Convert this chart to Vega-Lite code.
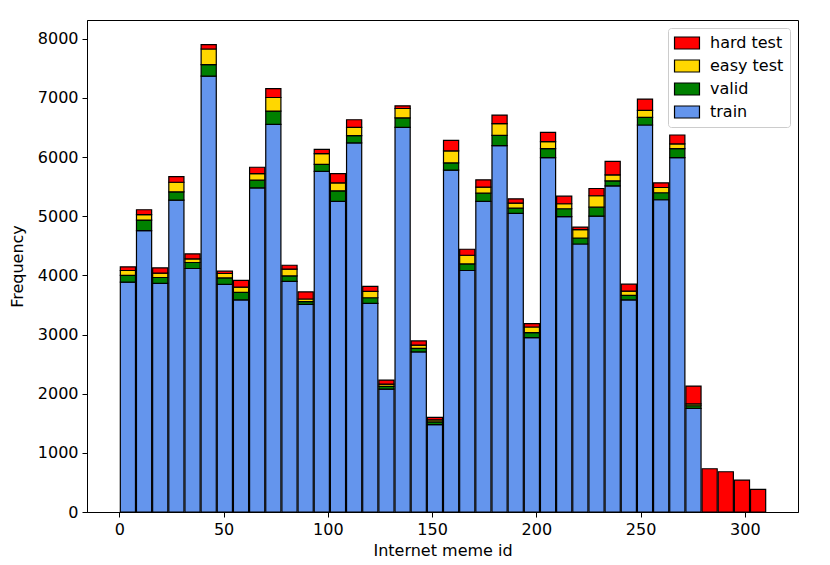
{
  "$schema": "https://vega.github.io/schema/vega-lite/v6.json",
  "width": 711,
  "height": 492,
  "autosize": "none",
  "padding": {"left": 87, "top": 20, "right": 32, "bottom": 53},
  "data": {
    "values": [
      {"lo": 0, "hi": 7.75, "train": 3885, "valid": 113, "easy test": 84, "hard test": 61},
      {"lo": 7.75, "hi": 15.5, "train": 4756, "valid": 178, "easy test": 91, "hard test": 84},
      {"lo": 15.5, "hi": 23.25, "train": 3863, "valid": 101, "easy test": 72, "hard test": 90},
      {"lo": 23.25, "hi": 31, "train": 5271, "valid": 141, "easy test": 162, "hard test": 96},
      {"lo": 31, "hi": 38.75, "train": 4116, "valid": 101, "easy test": 60, "hard test": 85},
      {"lo": 38.75, "hi": 46.5, "train": 7366, "valid": 195, "easy test": 265, "hard test": 75},
      {"lo": 46.5, "hi": 54.25, "train": 3846, "valid": 111, "easy test": 74, "hard test": 39},
      {"lo": 54.25, "hi": 62, "train": 3585, "valid": 127, "easy test": 89, "hard test": 113},
      {"lo": 62, "hi": 69.75, "train": 5480, "valid": 128, "easy test": 113, "hard test": 106},
      {"lo": 69.75, "hi": 77.5, "train": 6551, "valid": 225, "easy test": 230, "hard test": 151},
      {"lo": 77.5, "hi": 85.25, "train": 3897, "valid": 94, "easy test": 113, "hard test": 67},
      {"lo": 85.25, "hi": 93, "train": 3510, "valid": 45, "easy test": 45, "hard test": 120},
      {"lo": 93, "hi": 100.75, "train": 5759, "valid": 118, "easy test": 181, "hard test": 72},
      {"lo": 100.75, "hi": 108.5, "train": 5249, "valid": 180, "easy test": 135, "hard test": 157},
      {"lo": 108.5, "hi": 116.25, "train": 6238, "valid": 123, "easy test": 139, "hard test": 130},
      {"lo": 116.25, "hi": 124, "train": 3526, "valid": 95, "easy test": 107, "hard test": 85},
      {"lo": 124, "hi": 131.75, "train": 2078, "valid": 45, "easy test": 39, "hard test": 68},
      {"lo": 131.75, "hi": 139.5, "train": 6500, "valid": 163, "easy test": 157, "hard test": 46},
      {"lo": 139.5, "hi": 147.25, "train": 2706, "valid": 60, "easy test": 53, "hard test": 72},
      {"lo": 147.25, "hi": 155, "train": 1477, "valid": 45, "easy test": 34, "hard test": 44},
      {"lo": 155, "hi": 162.75, "train": 5777, "valid": 124, "easy test": 202, "hard test": 178},
      {"lo": 162.75, "hi": 170.5, "train": 4082, "valid": 111, "easy test": 147, "hard test": 101},
      {"lo": 170.5, "hi": 178.25, "train": 5249, "valid": 140, "easy test": 101, "hard test": 124},
      {"lo": 178.25, "hi": 186, "train": 6192, "valid": 174, "easy test": 197, "hard test": 146},
      {"lo": 186, "hi": 193.75, "train": 5047, "valid": 89, "easy test": 84, "hard test": 74},
      {"lo": 193.75, "hi": 201.5, "train": 2947, "valid": 84, "easy test": 96, "hard test": 56},
      {"lo": 201.5, "hi": 209.25, "train": 5990, "valid": 152, "easy test": 118, "hard test": 156},
      {"lo": 209.25, "hi": 217, "train": 4991, "valid": 135, "easy test": 84, "hard test": 128},
      {"lo": 217, "hi": 224.75, "train": 4530, "valid": 101, "easy test": 141, "hard test": 44},
      {"lo": 224.75, "hi": 232.5, "train": 5001, "valid": 152, "easy test": 192, "hard test": 123},
      {"lo": 232.5, "hi": 240.25, "train": 5513, "valid": 85, "easy test": 101, "hard test": 229},
      {"lo": 240.25, "hi": 248, "train": 3587, "valid": 74, "easy test": 72, "hard test": 118},
      {"lo": 248, "hi": 255.75, "train": 6541, "valid": 128, "easy test": 118, "hard test": 192},
      {"lo": 255.75, "hi": 263.5, "train": 5278, "valid": 118, "easy test": 89, "hard test": 79},
      {"lo": 263.5, "hi": 271.25, "train": 5990, "valid": 152, "easy test": 79, "hard test": 151},
      {"lo": 271.25, "hi": 279, "train": 1751, "valid": 45, "easy test": 30, "hard test": 303},
      {"lo": 279, "hi": 286.75, "train": 0, "valid": 0, "easy test": 0, "hard test": 731},
      {"lo": 286.75, "hi": 294.5, "train": 0, "valid": 0, "easy test": 0, "hard test": 680},
      {"lo": 294.5, "hi": 302.25, "train": 0, "valid": 0, "easy test": 0, "hard test": 539},
      {"lo": 302.25, "hi": 310, "train": 0, "valid": 0, "easy test": 0, "hard test": 382}
    ]
  },
  "transform": [
    {"fold": ["train", "valid", "easy test", "hard test"], "as": ["split", "n"]},
    {"filter": "datum.n > 0"},
    {"calculate": "indexof(['train','valid','easy test','hard test'], datum.split)", "as": "stack_rank"}
  ],
  "mark": {"type": "bar", "stroke": "black", "strokeWidth": 1.2},
  "encoding": {
    "x": {
      "field": "lo",
      "type": "quantitative",
      "bin": "binned",
      "scale": {"domain": [-15.5, 325.5], "nice": false, "zero": false},
      "axis": {"values": [0, 50, 100, 150, 200, 250, 300], "title": "Internet meme id", "format": "d"}
    },
    "x2": {"field": "hi"},
    "y": {
      "field": "n",
      "type": "quantitative",
      "stack": "zero",
      "scale": {"domain": [0, 8316], "nice": false},
      "axis": {"values": [0, 1000, 2000, 3000, 4000, 5000, 6000, 7000, 8000], "format": "d", "title": "Frequency", "titlePadding": 12}
    },
    "color": {
      "field": "split",
      "type": "nominal",
      "scale": {
        "domain": ["hard test", "easy test", "valid", "train"],
        "range": ["#ff0000", "#ffd700", "#008000", "#6495ed"]
      },
      "legend": {
        "title": null,
        "orient": "top-right",
        "offset": 8,
        "padding": 6,
        "rowPadding": 5,
        "symbolOffset": 4,
        "labelOffset": 14,
        "labelFontSize": 16,
        "labelFont": "DejaVu Sans",
        "labelColor": "black",
        "symbolType": "M-1.56,-0.75H1.56V0.75H-1.56Z",
        "symbolSize": 256,
        "symbolStrokeColor": "black",
        "symbolStrokeWidth": 1.2,
        "symbolOpacity": 1,
        "strokeColor": "#cccccc",
        "fillColor": "white",
        "cornerRadius": 3
      }
    },
    "order": {"field": "stack_rank", "type": "quantitative"}
  },
  "config": {
    "font": "DejaVu Sans",
    "view": {"stroke": "black", "strokeWidth": 1},
    "axis": {
      "grid": false,
      "domainColor": "black",
      "tickColor": "black",
      "tickSize": 5,
      "labelPadding": 4,
      "labelFontSize": 16,
      "labelColor": "black",
      "labelFont": "DejaVu Sans",
      "titleFontSize": 16,
      "titleFontWeight": "normal",
      "titleColor": "black",
      "titleFont": "DejaVu Sans"
    },
    "axisX": {"titlePadding": 5, "labelFlush": false}
  }
}
